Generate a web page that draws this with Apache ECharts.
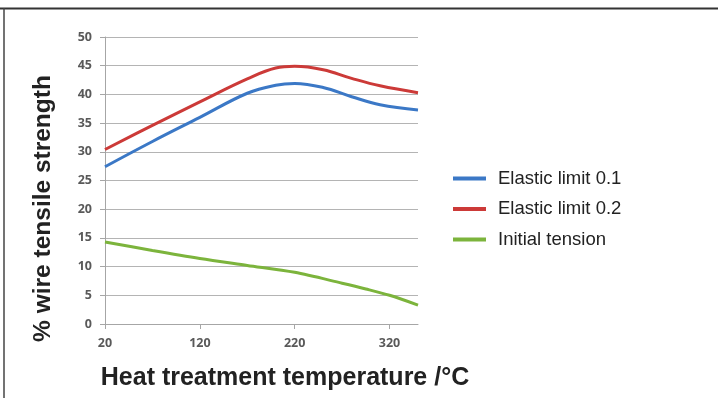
<!DOCTYPE html>
<html>
<head>
<meta charset="utf-8">
<script src="https://cdn.jsdelivr.net/npm/echarts@6/dist/echarts.min.js"></script>
<style>
html,body{margin:0;padding:0;background:#fff;}
#chart{width:718px;height:398px;}
</style>
</head>
<body>
<div id="chart"></div>
<script>
const seriesNames = ['Elastic limit 0.1', 'Elastic limit 0.2', 'Initial tension'];
const tempsElastic = [20, 70, 120, 170, 200, 220, 250, 280, 310, 350];
const elastic01 = [27.4, 31.8, 36.0, 40.2, 41.6, 41.9, 41.2, 39.6, 38.2, 37.3];
const elastic02 = [30.4, 34.6, 38.7, 42.7, 44.6, 44.9, 44.3, 42.8, 41.5, 40.3];
const tempsInitial = [20, 70, 120, 170, 220, 270, 295, 320, 350];
const initialTension = [14.3, 12.8, 11.4, 10.2, 9.0, 7.1, 6.1, 5.0, 3.3];
const xTickValues = [20, 120, 220, 320];
const colors = ['#3b78c6', '#cc3a38', '#7cb43c'];

const pair = (xs, ys) => xs.map((x, i) => [x, ys[i]]);

const chart = echarts.init(document.getElementById('chart'));
chart.setOption({
  animation: false,
  backgroundColor: '#fff',
  grid: {left: 105, right: 300, top: 37, bottom: 74, containLabel: false},
  legend: {
    orient: 'vertical',
    left: 448, top: 164,
    itemWidth: 33, itemHeight: 4, itemGap: 11.5,
    icon: 'rect',
    textStyle: {fontFamily: 'Liberation Sans, Arial, sans-serif', fontSize: 18.5, color: '#222', padding: [0, 0, 0, 7]},
    data: seriesNames
  },
  xAxis: {
    type: 'value', min: 20, max: 350,
    name: 'Heat treatment temperature /°C',
    nameLocation: 'middle', nameGap: 42,
    nameTextStyle: {fontFamily: 'Liberation Sans, Arial, sans-serif', fontWeight: 'bold', fontSize: 25, color: '#222', padding: [0, 0, 0, 47]},
    axisLine: {show: true, lineStyle: {color: '#a6a6a6', width: 1}},
    axisTick: {show: true, length: 5, lineStyle: {color: '#a6a6a6'}, customValues: xTickValues},
    axisLabel: {customValues: xTickValues, color: '#595959', fontFamily: 'Open Sans, sans-serif', fontWeight: 'bold', fontSize: 12.5, margin: 13},
    splitLine: {show: false}
  },
  yAxis: {
    type: 'value', min: 0, max: 50, interval: 5,
    name: '% wire tensile strength',
    nameLocation: 'middle', nameGap: 49,
    nameTextStyle: {fontFamily: 'Liberation Sans, Arial, sans-serif', fontWeight: 'bold', fontSize: 24.5, color: '#222', padding: [0, 56, 0, 0]},
    axisLine: {show: true, lineStyle: {color: '#a6a6a6', width: 1}},
    axisTick: {show: true, length: 5, lineStyle: {color: '#a6a6a6'}},
    axisLabel: {color: '#595959', fontFamily: 'Open Sans, sans-serif', fontWeight: 'bold', fontSize: 12.5, margin: 13},
    splitLine: {show: true, lineStyle: {color: '#b4b4b4', width: 1}}
  },
  graphic: [
    {type: 'line', shape: {x1: 0, y1: 8.5, x2: 718, y2: 8.5}, style: {stroke: '#333', lineWidth: 2}},
    {type: 'line', shape: {x1: 4, y1: 8, x2: 4, y2: 398}, style: {stroke: '#444', lineWidth: 1.5}}
  ],
  series: [
    {name: seriesNames[0], type: 'line', data: pair(tempsElastic, elastic01), smooth: 0.4, showSymbol: false, lineStyle: {color: colors[0], width: 3}, itemStyle: {color: colors[0]}},
    {name: seriesNames[1], type: 'line', data: pair(tempsElastic, elastic02), smooth: 0.4, showSymbol: false, lineStyle: {color: colors[1], width: 3}, itemStyle: {color: colors[1]}},
    {name: seriesNames[2], type: 'line', data: pair(tempsInitial, initialTension), smooth: 0.3, showSymbol: false, lineStyle: {color: colors[2], width: 3}, itemStyle: {color: colors[2]}}
  ]
});
</script>
</body>
</html>
